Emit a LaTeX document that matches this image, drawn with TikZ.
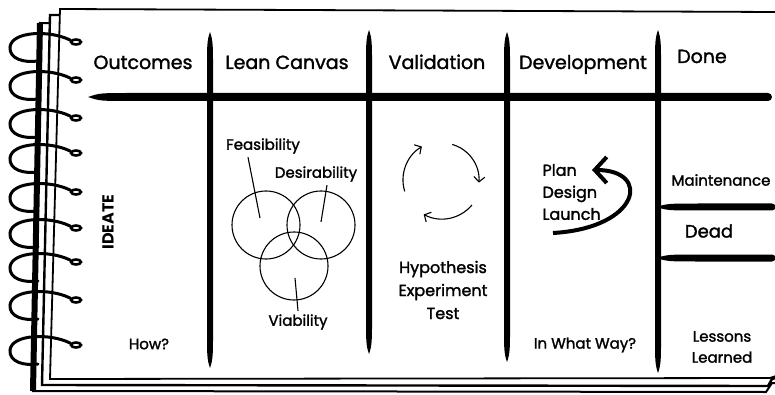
\documentclass[tikz,border=0pt]{standalone}
\usepackage{fontspec}
\setmainfont{Poppins}[UprightFeatures={FakeBold=1.6}]
\usetikzlibrary{arrows.meta}

% tapered marker strokes for the board grid
\newcommand{\vstroke}[3]{%
  \fill (#1,#2) .. controls (#1+3,#2+8) and (#1+3,#2+16) .. (#1+3,#2+30)
    -- (#1+3,#3-30) .. controls (#1+3,#3-16) and (#1+3,#3-8) .. (#1,#3)
    .. controls (#1-3,#3-8) and (#1-3,#3-16) .. (#1-3,#3-30)
    -- (#1-3,#2+30) .. controls (#1-3,#2+16) and (#1-3,#2+8) .. (#1,#2) -- cycle;}
\newcommand{\hstroke}[4]{%
  \fill (#2,#1) .. controls (#2+12,#1-#4) .. (#2+45,#1-#4) -- (#3,#1-#4)
    arc[start angle=-90,end angle=90,radius=#4] -- (#2+45,#1+#4)
    .. controls (#2+12,#1+#4) .. (#2,#1) -- cycle;}

\tikzset{
  head/.style={font=\fontsize{19}{22}\selectfont, anchor=base},
  note/.style={font=\fontsize{15}{21}\selectfont, align=center},
  ring/.style={line width=3, line cap=round},
  pen/.style={line width=1.1},
  cycarrow/.style={line width=1.1, -{Straight Barb[length=5,width=11]}}
}

\begin{document}
\begin{tikzpicture}[x=1pt,y=1pt,yscale=-1]
\useasboundingbox (0,0) rectangle (775,395);

% stacked pages, back to front
\filldraw[fill=white,line width=2] (40,23) -- (776,27) -- (776,383) -- (772,383) -- (766,392) -- (33,391) -- cycle;
\draw[line width=6] (40,23) -- (33,391);
\filldraw[fill=white,line width=2.4] (50,15) -- (776,19) -- (776,378) -- (772,379) -- (768,386) -- (42,385) -- cycle;
\filldraw[fill=white,line width=1.8] (60,9) -- (776,12) -- (776,376) -- (770,378) -- (50,379) -- cycle;

% spiral binding
\foreach \y in {42,80,118,153,192,228,262,300,345}{
  \draw[ring] (70,\y-2) .. controls (50,\y-12) and (12,\y-11) .. (10,\y+5)
    .. controls (9,\y+17) and (24,\y+21) .. (38,\y+19);
  \draw[line width=2.6] (76,\y) ellipse[x radius=5,y radius=2.5];
}

% grid
\hstroke{97}{88}{768}{4}
\vstroke{210}{32}{368}
\vstroke{369}{30}{354}
\vstroke{507}{32}{362}
\vstroke{658}{30}{373}
\hstroke{207}{656}{772}{3.5}
\hstroke{258}{656}{772}{3.5}

% column heads
\node[head] (outcomes) at (143,69) {Outcomes};
\node[head] (canvas) at (287,69) {Lean Canvas};
\node[head] (validation) at (437,69) {Validation};
\node[head] (development) at (583,69) {Development};
\node[head] (done) at (702,63) {Done};

% outcomes
\node[note, rotate=90, font=\fontsize{16}{18}\selectfont\bfseries] (ideate) at (108,222) {IDEATE};
\node[note] (how) at (149,344) {How?};

% lean canvas
\draw[pen] (266,225) circle[radius=34];
\draw[pen] (321,225) circle[radius=34];
\draw[pen] (294,266) circle[radius=34];
\node[note] (feas) at (263,146) {Feasibility};
\node[note] (desir) at (316,174) {Desirability};
\node[note] (viab) at (298,322) {Viability};
\coordinate (feaspt) at (260,218);
\coordinate (desirpt) at (321,222);
\coordinate (viabpt) at (295,278);
\draw[pen] ([xshift=-15]feas.south) -- (feaspt);
\draw[pen] ([xshift=11]desir.south) -- (desirpt);
\draw[pen] (viab.north) -- (viabpt);

% validation
\coordinate (cyc) at (442,180);
\draw[cycarrow] (cyc) ++(163:39) arc[start angle=163,end angle=239,radius=39];
\draw[cycarrow] (cyc) ++(286:37) arc[start angle=286,end angle=364,radius=37];
\draw[cycarrow] (cyc) ++(40:39) arc[start angle=40,end angle=118,radius=39];
\node[note, font=\fontsize{16}{23}\selectfont] (hyp) at (443,290) {Hypothesis\\Experiment\\Test};

% development
\node[note, align=left, anchor=west, font=\fontsize{16}{22}\selectfont] (plan) at (539,192) {Plan\\Design\\Launch};
\coordinate (turnA) at (553,233);
\coordinate (turnB) at (592,170);
\draw[line width=4, -{Straight Barb[length=12,width=26]}] (turnA) .. controls (640,228) and (652,170) .. (turnB);
\node[note] (way) at (585,345) {In What Way?};

% done
\node[note] (maint) at (721,180) {Maintenance};
\node[note, font=\fontsize{18}{20}\selectfont] (dead) at (709,231) {Dead};
\node[note] (lessons) at (722,347) {Lessons\\Learned};
\end{tikzpicture}
\end{document}
